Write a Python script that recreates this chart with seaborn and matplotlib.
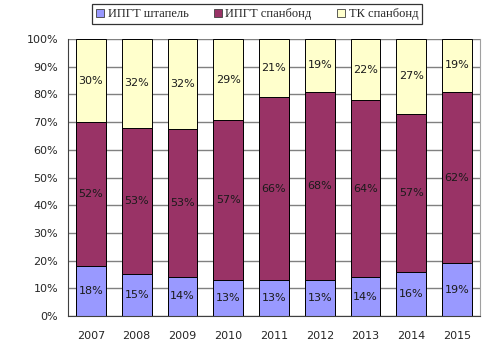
import numpy as np
import matplotlib
matplotlib.use("Agg")
import matplotlib.pyplot as plt
import seaborn as sns
from matplotlib.patches import Patch

years = ["2007", "2008", "2009", "2010", "2011", "2012", "2013", "2014", "2015"]
shtapel = [18, 15, 14, 13, 13, 13, 14, 16, 19]
ipgt_spanbond = [52, 53, 53, 57, 66, 68, 64, 57, 62]
tk_spanbond = [30, 32, 32, 29, 21, 19, 22, 27, 19]
series_names = ["ИПГТ штапель", "ИПГТ спанбонд", "ТК спанбонд"]
colors = ["#9999FF", "#993366", "#FFFFCC"]

sns.set_style("white")
plt.rcParams["font.family"] = ["DejaVu Sans"]

vals = np.array([shtapel, ipgt_spanbond, tk_spanbond], dtype=float)
share = vals / vals.sum(axis=0) * 100
cum = np.cumsum(share, axis=0)

fig = plt.figure(figsize=(5, 3.62), dpi=100)
ax = fig.add_axes([0.136, 0.127, 0.824, 0.765])

# stacked 100% bars: draw cumulative heights from the top layer down
for k in [2, 1, 0]:
    sns.barplot(x=years, y=cum[k], color=colors[k], width=0.65,
                edgecolor="black", linewidth=0.7, saturation=1, ax=ax, zorder=2)

for k in range(3):
    base = cum[k] - share[k]
    for i in range(len(years)):
        ax.text(i, base[i] + share[k][i] / 2, f"{int(vals[k][i])}%",
                ha="center", va="center", fontsize=8, color="#1a1a1a", zorder=3)

ax.set_ylim(0, 100)
ax.set_xlim(-0.5, len(years) - 0.5)
ax.set_yticks(range(0, 101, 10))
ax.set_yticklabels([f"{t}%" for t in range(0, 101, 10)], fontsize=8)
ax.set_xticks(range(len(years)))
ax.set_xticklabels(years, fontsize=8)
ax.set_xticks(np.arange(-0.5, len(years)), minor=True)
ax.tick_params(axis="x", which="major", length=0, pad=11)
ax.tick_params(axis="x", which="minor", length=4, color="#404040", width=0.8)
ax.tick_params(axis="y", length=3, color="#404040", width=0.8, pad=4)
ax.set_xlabel("")
ax.set_ylabel("")
ax.yaxis.grid(True, color="#808080", linewidth=1)
ax.set_axisbelow(True)
ax.spines["top"].set_visible(False)
ax.spines["left"].set_color("#404040")
ax.spines["bottom"].set_color("#404040")
ax.spines["right"].set_color("#a0a0a0")

handles = [Patch(facecolor=c, edgecolor="#404040", linewidth=0.6) for c in colors]
leg = fig.legend(handles, series_names, loc="center", bbox_to_anchor=(0.514, 0.961),
                 ncol=3, frameon=True, fancybox=False, edgecolor="black",
                 prop={"family": "Liberation Serif", "size": 9},
                 handlelength=0.65, handleheight=0.65, handletextpad=0.3,
                 columnspacing=2.0, borderpad=0.3)
leg.get_frame().set_linewidth(0.9)

fig.savefig("out.png", dpi=100)
